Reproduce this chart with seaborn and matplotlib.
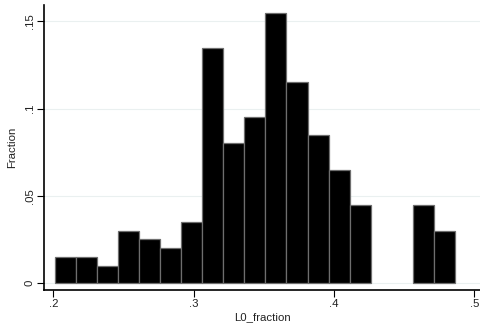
import numpy as np
import pandas as pd
import matplotlib
matplotlib.use("Agg")
import matplotlib.pyplot as plt
import seaborn as sns

# Histogram bins (Stata style, 19 bins of width .015)
bin_start = 0.2012
bin_width = 0.015
fractions = [0.015, 0.015, 0.010, 0.030, 0.025, 0.020, 0.035, 0.135, 0.080, 0.095,
             0.155, 0.115, 0.085, 0.065, 0.045, 0.0, 0.0, 0.045, 0.030]
x_ticks = [0.2, 0.3, 0.4, 0.5]
x_labels = [".2", ".3", ".4", ".5"]
y_ticks = [0, 0.05, 0.1, 0.15]
y_labels = ["0", ".05", ".1", ".15"]

edges = bin_start + bin_width * np.arange(len(fractions) + 1)
df = pd.DataFrame({"L0_fraction": (edges[:-1] + edges[1:]) / 2, "Fraction": fractions})

sns.set_style("white")
plt.rcParams["font.family"] = ["Liberation Sans", "DejaVu Sans"]

fig = plt.figure(figsize=(4.81, 3.31), dpi=100)
ax = fig.add_axes([44 / 481, 41 / 331, 437 / 481, 285 / 331])

sns.histplot(data=df, x="L0_fraction", weights="Fraction", bins=edges.tolist(), ax=ax,
             stat="count", color="black", alpha=1, edgecolor="#6e6e6e", linewidth=0.9)

# empty bins should not leave an outline on the baseline
for p in ax.patches:
    if p.get_height() == 0:
        p.set_visible(False)

ax.set_xlim(0.1934, 0.5048)
ax.set_ylim(-0.004, 0.1594)
ax.set_xticks(x_ticks)
ax.set_xticklabels(x_labels)
ax.set_yticks(y_ticks)
ax.set_yticklabels(y_labels, rotation=90, va="center")
ax.set_xlabel("L0_fraction", fontsize=8.2, labelpad=2, color="#222222")
ax.set_ylabel("Fraction", fontsize=8.2, labelpad=5, color="#222222")
ax.tick_params(axis="both", labelsize=8.2, length=4.8, width=0.8, color="black",
               labelcolor="#222222", direction="out", left=True, bottom=True, pad=2)

ax.yaxis.grid(True, color="#eaf0f0", linewidth=0.8)
ax.xaxis.grid(False)
ax.set_axisbelow(True)
for side in ["top", "right"]:
    ax.spines[side].set_visible(False)
for side in ["left", "bottom"]:
    ax.spines[side].set_color("black")
    ax.spines[side].set_linewidth(1.2)

fig.savefig("out.png", dpi=100, facecolor="white")
